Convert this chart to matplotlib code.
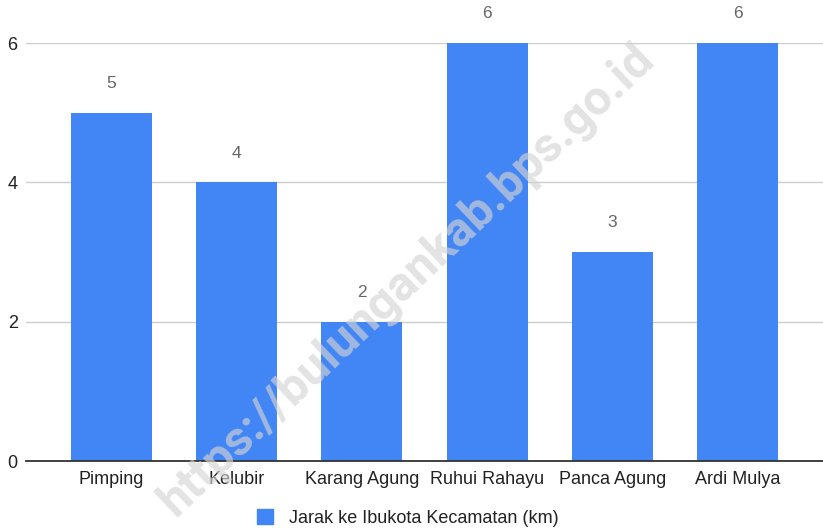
import matplotlib.pyplot as plt
from matplotlib.patches import Patch

plt.rcParams['font.family'] = ['Liberation Sans', 'DejaVu Sans']

desa = ["Pimping", "Kelubir", "Karang Agung", "Ruhui Rahayu", "Panca Agung", "Ardi Mulya"]
jarak = [5, 4, 2, 6, 3, 6]
y_ticks = [0, 2, 4, 6]
legend_label = "Jarak ke Ibukota Kecamatan (km)"
watermark = "https://bulungankab.bps.go.id"

bar_color = "#4285F4"

fig = plt.figure(figsize=(8.23, 5.31), dpi=100)
ax = fig.add_axes([26 / 823, 1 - 461 / 531, 1 - 26 / 823, (461 - 43) / 531])

x = list(range(len(desa)))
bars = ax.bar(x, jarak, width=0.646, color=bar_color, zorder=3)
for xi, v in zip(x, jarak):
    ax.annotate(str(v), (xi, v), xytext=(0, 21), textcoords="offset points",
                ha="center", va="center", fontsize=12.5, color="#666666",
                zorder=4, annotation_clip=False)

ax.set_xlim(-0.682, 5.682)
ax.set_ylim(0, 6)
ax.set_yticks(y_ticks)
ax.set_yticklabels([str(t) for t in y_ticks], fontsize=13, color="#222222")
ax.set_xticks(x)
ax.set_xticklabels(desa, fontsize=13, color="#222222")
ax.tick_params(axis="both", length=0)
ax.tick_params(axis="y", pad=6)
ax.tick_params(axis="x", pad=7)
ax.yaxis.grid(True, color="#cccccc", linewidth=1, zorder=0)
for s in ["top", "right", "left"]:
    ax.spines[s].set_visible(False)
ax.spines["bottom"].set_color("#333333")
ax.spines["bottom"].set_linewidth(1.3)
ax.spines["bottom"].set_zorder(5)

fig.legend(handles=[Patch(color=bar_color, label=legend_label)],
           loc="center", bbox_to_anchor=(408 / 823, 1 - 518 / 531),
           frameon=False, fontsize=13, handlelength=0.9, handleheight=0.9,
           handletextpad=0.9, labelcolor="#222222")

fig.text(407 / 823, 1 - 280 / 531, watermark, rotation=43.5, ha="center", va="center",
         fontsize=35, fontweight="bold", color="#d4d4d4", alpha=0.65, zorder=10,
         family=["Roboto", "DejaVu Sans"])

fig.savefig("out.png", dpi=100)
